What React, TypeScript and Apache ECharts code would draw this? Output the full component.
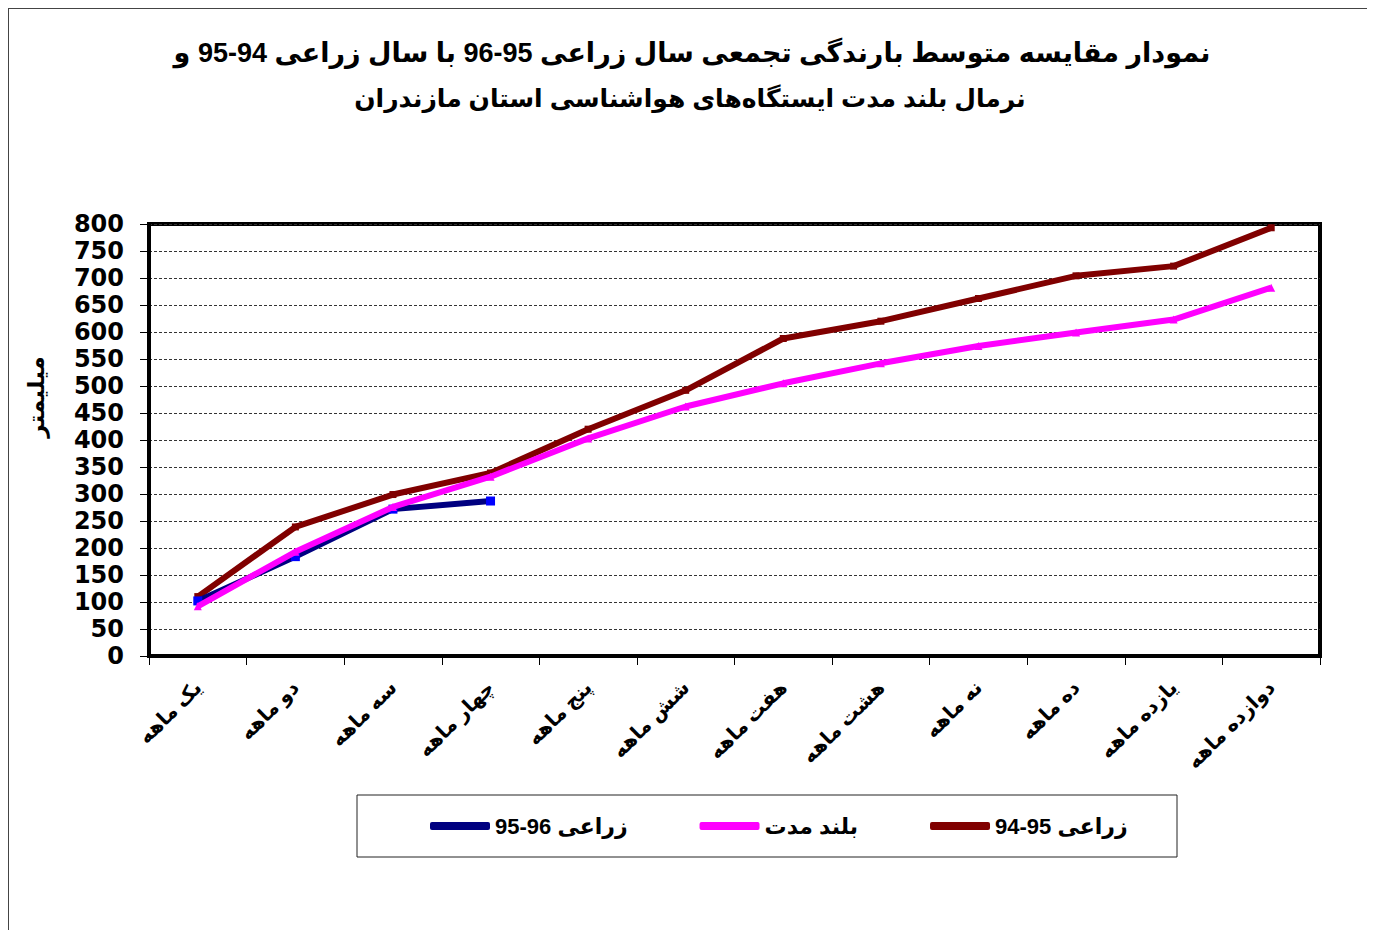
import React, { useEffect, useRef } from "react";
import * as echarts from "echarts";

const categories = [
  "یک ماهه",
  "دو ماهه",
  "سه ماهه",
  "چهار ماهه",
  "پنج ماهه",
  "شش ماهه",
  "هفت ماهه",
  "هشت ماهه",
  "نه ماهه",
  "ده ماهه",
  "یازده ماهه",
  "دوازده ماهه",
];

const seriesNames = ["زراعی 96-95", "بلند مدت", "زراعی 95-94"];

const year9596 = [102, 184, 272, 287];
const longTerm = [92, 193, 276, 332, 403, 462, 505, 542, 574, 599, 623, 682];
const year9495 = [110, 239, 299, 339, 420, 492, 588, 620, 662, 704, 722, 793];

const titleLine1 =
  "نمودار مقایسه متوسط بارندگی تجمعی سال زراعی 95-96 با سال زراعی 94-95 و";
const titleLine2 = "نرمال بلند مدت ایستگاه‌های هواشناسی استان مازندران";
const yAxisName = "میلیمتر";

const FONT = "Arial, 'Liberation Sans', 'DejaVu Sans', sans-serif";
const DEJAVU = "'DejaVu Sans', sans-serif";

export default function App() {
  const ref = useRef<HTMLDivElement>(null);

  useEffect(() => {
    if (!ref.current) return;
    const chart = echarts.init(ref.current, undefined, { renderer: "svg" });
    chart.setOption({
      animation: false,
      backgroundColor: "#fff",
      textStyle: { fontFamily: FONT },
      title: [
        {
          text: titleLine1,
          left: 678,
          top: 25,
          textAlign: "center",
          textStyle: {
            fontFamily: FONT,
            fontSize: 27,
            fontWeight: "bold",
            color: "#000",
          },
        },
        {
          text: titleLine2,
          left: 676,
          top: 71,
          textAlign: "center",
          textStyle: {
            fontFamily: FONT,
            fontSize: 25,
            fontWeight: "bold",
            color: "#000",
          },
        },
      ],
      graphic: [
        {
          type: "rect",
          shape: { x: 348, y: 786, width: 820, height: 62 },
          style: { fill: "#fff", stroke: "#222", lineWidth: 1 },
          z: 0,
        },
        {
          type: "text",
          x: 27,
          y: 388,
          rotation: Math.PI / 2,
          style: {
            text: yAxisName,
            fontFamily: DEJAVU,
            fontSize: 23,
            fontWeight: "bold",
            fill: "#000",
            align: "center",
            verticalAlign: "middle",
          },
        },
      ],
      legend: {
        data: [
          { name: seriesNames[0], itemStyle: { color: "#000080" } },
          { name: seriesNames[1], itemStyle: { color: "#FF00FF" } },
          { name: seriesNames[2], itemStyle: { color: "#800000" } },
        ],
        icon: "roundRect",
        left: 416,
        top: 801,
        itemGap: 72,
        itemWidth: 60,
        itemHeight: 8,
        textStyle: {
          fontFamily: FONT,
          fontSize: 22,
          fontWeight: "bold",
          color: "#000",
        },
        z: 5,
      },
      grid: {
        left: 140,
        top: 215,
        width: 1171,
        height: 432,
        show: true,
        borderColor: "#000",
        borderWidth: 4,
        backgroundColor: "#fff",
        containLabel: false,
      },
      xAxis: {
        type: "category",
        data: categories,
        boundaryGap: true,
        axisLine: { show: true, lineStyle: { color: "#000", width: 4 } },
        axisTick: {
          show: true,
          interval: 0,
          length: 9,
          inside: false,
          lineStyle: { color: "#000", width: 1 },
        },
        axisLabel: {
          interval: 0,
          rotate: 45,
          margin: 28,
          fontFamily: FONT,
          fontSize: 20,
          fontWeight: "bold",
          color: "#000",
        },
        splitLine: { show: false },
      },
      yAxis: {
        type: "value",
        min: 0,
        max: 800,
        interval: 50,
        axisLine: { show: true, lineStyle: { color: "#000", width: 4 } },
        axisTick: {
          show: true,
          length: 9,
          lineStyle: { color: "#000", width: 1 },
        },
        axisLabel: {
          margin: 25,
          fontFamily: DEJAVU,
          fontSize: 24,
          fontWeight: "bold",
          color: "#000",
        },
        splitLine: {
          show: true,
          lineStyle: { color: "#333", width: 1, type: [3, 2] },
        },
      },
      series: [
        {
          name: seriesNames[2],
          type: "line",
          data: year9495,
          symbol: "rect",
          symbolSize: 7,
          showSymbol: true,
          itemStyle: { color: "#800000" },
          lineStyle: { color: "#800000", width: 6 },
          z: 2,
        },
        {
          name: seriesNames[0],
          type: "line",
          data: year9596,
          symbol: "rect",
          symbolSize: 9,
          itemStyle: { color: "#0000FF" },
          lineStyle: { color: "#000080", width: 6 },
          z: 3,
        },
        {
          name: seriesNames[1],
          type: "line",
          data: longTerm,
          symbol: "triangle",
          symbolSize: 8,
          itemStyle: { color: "#FF00FF" },
          lineStyle: { color: "#FF00FF", width: 6 },
          z: 4,
        },
      ],
    });
    return () => chart.dispose();
  }, []);

  return (
    <div
      style={{
        width: 1361,
        height: 930,
        border: "1px solid #444",
        boxSizing: "border-box",
        background: "#fff",
      }}
    >
      <div ref={ref} style={{ width: 1359, height: 928 }} />
    </div>
  );
}
